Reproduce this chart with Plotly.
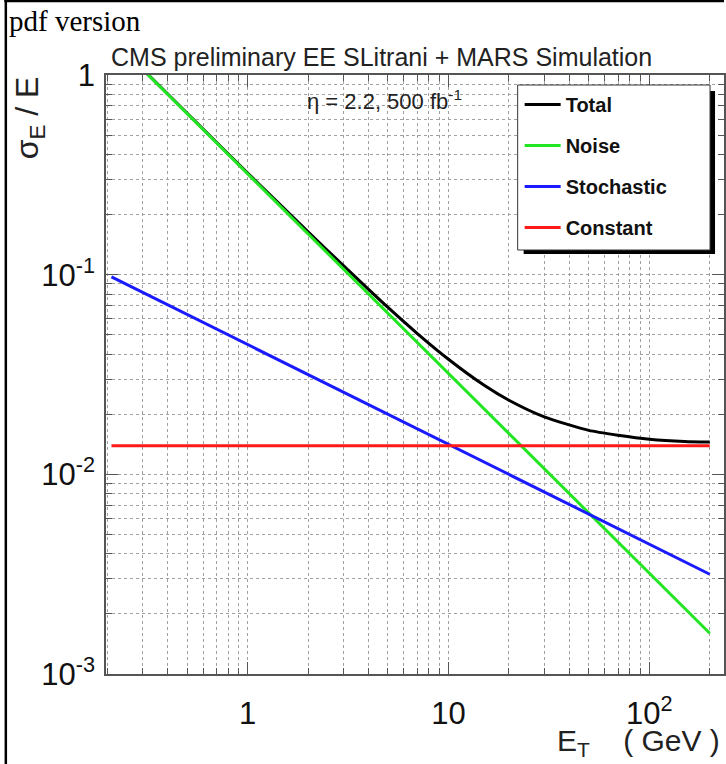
import plotly.graph_objects as go

# ---- data ----
energy_total = [0.3, 0.5, 1, 2, 3, 5, 7, 10, 15, 20, 30, 50, 70, 100, 150, 200]
sigma_total = [1.07, 0.643, 0.323, 0.164, 0.111, 0.0685, 0.0507, 0.0377, 0.028, 0.0235,
               0.0194, 0.0166, 0.0157, 0.0150, 0.0146, 0.0145]
energy_noise = [0.3, 200]
sigma_noise = [1.067, 0.0016]
energy_stoch = [0.21, 200]
sigma_stoch = [0.0975, 0.00316]
energy_const = [0.21, 200]
sigma_const = [0.0139, 0.0139]

series_names = ["Total", "Noise", "Stochastic", "Constant"]
series_colors = ["#000000", "#22e622", "#1a1aff", "#ff1a1a"]

x_tick_vals = [1, 10, 100]
x_tick_text = ["1", "10", "10<sup>2</sup>"]
y_tick_vals = [0.001, 0.01, 0.1, 1]
y_tick_text = ["10<sup>-3</sup>", "10<sup>-2</sup>", "10<sup>-1</sup>", "1"]
x_minor_vals = [m * 10 ** k for k in (-1, 0, 1, 2) for m in range(2, 10)]
y_minor_vals = [m * 10 ** k for k in (-3, -2, -1) for m in range(2, 10)]

title_text = "CMS preliminary EE SLitrani + MARS Simulation"
label_text = "η = 2.2, 500 fb<sup>-1</sup>"

# ---- geometry helpers (pixel -> paper) ----
W, H = 726, 764
ML, MR, MT, MB = 106, 0, 75, 90
PW, PH = W - ML - MR, H - MT - MB


def px(x):
    return (x - ML) / PW


def py(y):
    return (H - MB - y) / PH


FONT = "Liberation Sans, Arial, sans-serif"

fig = go.Figure()
xs = [energy_total, energy_noise, energy_stoch, energy_const]
ys = [sigma_total, sigma_noise, sigma_stoch, sigma_const]
for i, (name, col) in enumerate(zip(series_names, series_colors)):
    fig.add_trace(go.Scatter(x=xs[i], y=ys[i], mode="lines", name=name,
                             legendgroup=name,
                             line=dict(color=col, width=3, shape="spline", smoothing=0.6)))

axis_common = dict(
    type="log", tickmode="array", ticks="inside", ticklen=12, tickwidth=1,
    tickcolor="#555", showline=True, linecolor="#555", linewidth=1.5,
    mirror="ticks", showgrid=True, gridcolor="#a0a0a0", griddash="dot",
    gridwidth=1, zeroline=False,
    tickfont=dict(family=FONT, size=31, color="#111"),
)

fig.update_xaxes(**axis_common, range=[-0.705, 2.372], tickvals=x_tick_vals,
                 ticktext=x_tick_text, ticklabelstandoff=11,
                 minor=dict(tickmode="array", tickvals=x_minor_vals, ticks="inside",
                            ticklen=6, tickcolor="#555", showgrid=True,
                            gridcolor="#a0a0a0", griddash="dot", gridwidth=1))
fig.update_yaxes(**axis_common, range=[-3, 0], tickvals=y_tick_vals,
                 ticktext=y_tick_text, ticklabelstandoff=3,
                 minor=dict(tickmode="array", tickvals=y_minor_vals, ticks="inside",
                            ticklen=6, tickcolor="#555", showgrid=True,
                            gridcolor="#a0a0a0", griddash="dot", gridwidth=1))

shapes = [
    # legend shadow and box
    dict(type="rect", xref="paper", yref="paper", x0=px(525), x1=px(717), y0=py(254), y1=py(91),
         fillcolor="black", line=dict(width=0), layer="above"),
    dict(type="rect", xref="paper", yref="paper", x0=px(519), x1=px(712), y0=py(250), y1=py(85),
         fillcolor="white", line=dict(color="#333", width=1), layer="above"),
    # page border
    dict(type="line", xref="paper", yref="paper", x0=px(5.5), x1=px(5.5), y0=py(0), y1=py(H),
         line=dict(color="black", width=2.5), layer="above"),
    dict(type="line", xref="paper", yref="paper", x0=px(4), x1=px(W), y0=py(1), y1=py(1),
         line=dict(color="black", width=2.5), layer="above"),
]

annotations = [
    dict(text="pdf version", xref="paper", yref="paper", x=px(7), y=py(21),
         xanchor="left", yanchor="middle", showarrow=False,
         font=dict(family="Liberation Serif, Times New Roman, serif", size=29, color="black")),
    dict(text=title_text, xref="paper", yref="paper", x=px(382), y=py(57),
         xanchor="center", yanchor="middle", showarrow=False,
         font=dict(family=FONT, size=25, color="#222")),
    dict(text=label_text, xref="paper", yref="paper", x=px(385), y=py(100),
         xanchor="center", yanchor="middle", showarrow=False,
         font=dict(family=FONT, size=22, color="#222")),
    dict(text="σ<sub>E</sub> / E", xref="paper", yref="paper", x=px(29), y=py(118),
         xanchor="center", yanchor="middle", showarrow=False, textangle=-90,
         font=dict(family=FONT, size=32, color="#222")),
    dict(text="E<sub>T</sub>\u00a0\u00a0\u00a0 ( GeV )", xref="paper", yref="paper", x=px(724), y=py(742),
         xanchor="right", yanchor="middle", showarrow=False,
         font=dict(family=FONT, size=30, color="#222")),
]

fig.update_layout(
    width=W, height=H,
    margin=dict(l=ML, r=MR, t=MT, b=MB, pad=0),
    paper_bgcolor="white", plot_bgcolor="white",
    showlegend=True,
    legend=dict(x=px(521), y=py(85), xanchor="left", yanchor="top",
                bgcolor="rgba(0,0,0,0)", borderwidth=0, tracegroupgap=12,
                itemwidth=36,
                font=dict(family=FONT, size=20, color="#111", weight="bold")),
    shapes=shapes, annotations=annotations,
)

fig.write_html(
    "out.html",
    config={"displayModeBar": False},
    post_script="document.body.style.margin='0';document.body.style.overflow='hidden';",
)
